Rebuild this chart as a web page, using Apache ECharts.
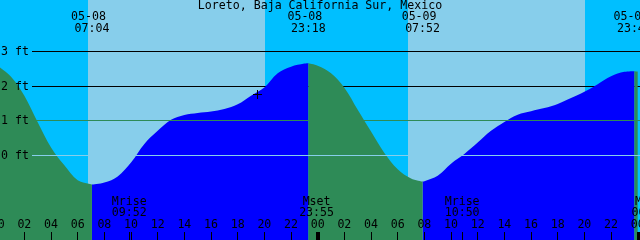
<!DOCTYPE html>
<html>
<head>
<meta charset="utf-8">
<script src="https://cdn.jsdelivr.net/npm/echarts@6/dist/echarts.min.js"></script>
<style>
  html, body { margin: 0; padding: 0; background: #00BFFF; }
  #chart { width: 640px; height: 240px; }
</style>
</head>
<body>
<div id="chart"></div>
<script>
const stationName = 'Loreto, Baja California Sur, Mexico';

// hours after 05-08 00:00 and predicted height (ft)
const tideHours = [0, 1, 2, 3, 4, 5, 6, 7, 8, 9, 10, 11, 12, 13, 14, 15, 16, 17, 18, 19, 20, 21, 22, 23,
  24, 25, 26, 27, 28, 29, 30, 31, 32, 33, 34, 35, 36, 37, 38, 39, 40, 41, 42, 43, 44, 45, 46, 47, 48];
const tideFeet = [2.58, 2.27, 1.72, 0.95, 0.22, -0.30, -0.73, -0.85, -0.80, -0.62, -0.22, 0.32, 0.70, 1.02,
  1.16, 1.22, 1.26, 1.33, 1.47, 1.72, 1.96, 2.37, 2.56, 2.65,
  2.59, 2.37, 1.95, 1.31, 0.68, 0.06, -0.41, -0.68, -0.76, -0.60, -0.25, 0.03, 0.36, 0.70, 0.96, 1.17,
  1.27, 1.36, 1.48, 1.65, 1.83, 2.05, 2.28, 2.41, 2.42];

// high / low tides
const extremeHours = [7.067, 23.3, 31.867, 47.75];
const extremeFeet = [-0.86, 2.66, -0.77, 2.43];
const extremeDates = ['05-08', '05-08', '05-09', '05-09'];
const extremeTimes = ['07:04', '23:18', '07:52', '23:45'];

const sunriseHours = [6.75, 30.75];
const sunsetHours = [20.05, 44.05];

const moonHours = [9.867, 23.917, 34.833, 48.85];
const moonEvents = ['Mrise', 'Mset', 'Mrise', 'Mset'];
const moonTimes = ['09:52', '23:55', '10:50', '00:51'];

const depthFeet = [3, 2, 1, 0];
const midnightHours = [24, 48];
const markHours = [19.48];
const markFeet = [1.75];

// colours
const NIGHT = '#00BFFF';
const DAY = '#87CEEB';
const FLOOD = '#0000FF';
const EBB = '#2E8B57';
const FONT = 'DejaVu Sans Mono';
const FS = 11.6;

// pixel frame of the plot
const W = 640, H = 240;
const ZERO_Y = 155, PX_PER_FT = 34.5;
const PX_PER_HOUR = 640 / 48, X_AT_MIDNIGHT = -2.3;
const Y_MAX = ZERO_Y / PX_PER_FT;
const Y_MIN = -(H - ZERO_Y) / PX_PER_FT;
const X_MAX = (W - X_AT_MIDNIGHT) / PX_PER_HOUR;

const pad2 = n => String(n).padStart(2, '0');

// split curve into rising (flood) and falling (ebb) stretches
const isHigh = i => extremeFeet[i] > (i > 0 ? extremeFeet[i - 1] : extremeFeet[i + 1]);
const points = tideHours.map((t, i) => [t, tideFeet[i]])
  .concat(extremeHours.map((t, i) => [t, extremeFeet[i]]))
  .sort((a, b) => a[0] - b[0]);

function rising(t) {
  let k = extremeHours.findIndex(e => e > t);
  if (k < 0) return !isHigh(extremeHours.length - 1);
  return isHigh(k);
}
const floodData = [], ebbData = [];
points.forEach(([t, h]) => {
  const ext = extremeHours.includes(t);
  const r = rising(t);
  floodData.push(ext || r ? [t, h] : [t, '-']);
  ebbData.push(ext || !r ? [t, h] : [t, '-']);
});

const chart = echarts.init(document.getElementById('chart'), null, { renderer: 'canvas' });

const textStyle = (extra) => Object.assign({
  fontFamily: FONT, fontSize: FS, fill: '#000'
}, extra);

chart.setOption({
  backgroundColor: NIGHT,
  animation: false,
  title: {
    text: stationName,
    left: 'center', top: 0, padding: 0,
    textStyle: { fontFamily: FONT, fontSize: FS, fontWeight: 'normal', color: '#000' }
  },
  grid: { left: X_AT_MIDNIGHT, right: 0, top: 0, bottom: 0, outerBoundsMode: 'none', containLabel: false },
  xAxis: {
    type: 'value', min: 0, max: X_MAX, interval: 2, z: 10,
    axisLine: { show: false, onZero: false },
    splitLine: { show: false },
    axisTick: { inside: true, length: 8, lineStyle: { color: '#000', width: 1 } },
    axisLabel: {
      inside: true, margin: 9, showMaxLabel: false,
      fontFamily: FONT, fontSize: FS, color: '#000',
      formatter: v => Number.isInteger(v) ? pad2(v % 24) : ''
    }
  },
  yAxis: { type: 'value', min: Y_MIN, max: Y_MAX, show: false },
  series: [
    {
      // daylight
      type: 'custom', z: 1, silent: true,
      data: sunriseHours.map((t, i) => [t, sunsetHours[i]]),
      renderItem(params, api) {
        const a = api.coord([api.value(0), Y_MAX]);
        const b = api.coord([api.value(1), Y_MIN]);
        const x0 = Math.round(a[0]), x1 = Math.round(b[0]);
        return { type: 'rect', shape: { x: x0, y: 0, width: x1 - x0, height: H }, style: { fill: DAY } };
      }
    },
    {
      // depth lines hidden by the water
      type: 'custom', z: 2, silent: true,
      data: depthFeet.filter(f => f >= 2),
      renderItem(params, api) {
        const y = Math.floor(api.coord([0, api.value(0)])[1]) + 0.5;
        return { type: 'line', shape: { x1: 32, y1: y, x2: W, y2: y }, style: { stroke: '#000', lineWidth: 1 } };
      }
    },
    {
      name: 'flood', type: 'line', z: 3, data: floodData,
      showSymbol: false, smooth: 0.35, silent: true,
      lineStyle: { width: 0, opacity: 0 },
      areaStyle: { color: FLOOD, opacity: 1, origin: 'start' }
    },
    {
      name: 'ebb', type: 'line', z: 3, data: ebbData,
      showSymbol: false, smooth: 0.35, silent: true,
      lineStyle: { width: 0, opacity: 0 },
      areaStyle: { color: EBB, opacity: 1, origin: 'start' }
    },
    {
      // datum and 1 ft lines drawn over the water
      type: 'custom', z: 4, silent: true,
      data: depthFeet.filter(f => f < 2),
      renderItem(params, api) {
        const f = api.value(0);
        const y = Math.floor(api.coord([0, f])[1]) + 0.5;
        return { type: 'line', shape: { x1: 32, y1: y, x2: W, y2: y },
          style: { stroke: f === 0 ? DAY : EBB, lineWidth: 1 } };
      }
    },
    {
      // depth labels
      type: 'custom', z: 5, silent: true,
      data: depthFeet,
      renderItem(params, api) {
        const f = api.value(0);
        const y = Math.floor(api.coord([0, f])[1]) + 0.5;
        return { type: 'text', x: 1, y, style: textStyle({ text: f + ' ft', align: 'left', verticalAlign: 'middle' }) };
      }
    },
    {
      // high / low labels
      type: 'custom', z: 5, silent: true,
      data: extremeHours.map((t, i) => [t, i]),
      renderItem(params, api) {
        const i = api.value(1);
        const x = api.coord([api.value(0), 0])[0];
        return { type: 'text', x, y: 11, style: textStyle({
          text: extremeDates[i] + ' \n' + extremeTimes[i], align: 'center', verticalAlign: 'top', lineHeight: 12 }) };
      }
    },
    {
      // moon labels
      type: 'custom', z: 5, silent: true,
      data: moonHours.map((t, i) => [t, i]),
      renderItem(params, api) {
        const i = api.value(1);
        const x = api.coord([api.value(0), 0])[0];
        return { type: 'text', x, y: 196.7, style: textStyle({
          text: moonEvents[i] + '\n' + moonTimes[i], align: 'center', verticalAlign: 'top', lineHeight: 11 }) };
      }
    },
    {
      // moon ticks
      type: 'custom', z: 10, silent: true,
      data: moonHours,
      renderItem(params, api) {
        const x = Math.floor(api.coord([api.value(0), 0])[0]) + 0.5;
        return { type: 'line', shape: { x1: x, y1: 232, x2: x, y2: H }, style: { stroke: '#000', lineWidth: 1 } };
      }
    },
    {
      // day boundary ticks
      type: 'custom', z: 10, silent: true,
      data: midnightHours,
      renderItem(params, api) {
        const x = Math.round(api.coord([api.value(0), 0])[0]) - 1;
        return { type: 'rect', shape: { x, y: 232, width: 3, height: 8 }, style: { fill: '#000' } };
      }
    },
    {
      // time mark
      type: 'custom', z: 6, silent: true,
      data: markHours.map((t, i) => [t, markFeet[i]]),
      renderItem(params, api) {
        const p = api.coord([api.value(0), api.value(1)]);
        const x = Math.floor(p[0]) + 0.5, y = Math.floor(p[1]) + 0.5;
        return { type: 'group', children: [
          { type: 'line', shape: { x1: x - 4.5, y1: y, x2: x + 4.5, y2: y }, style: { stroke: '#000', lineWidth: 1 } },
          { type: 'line', shape: { x1: x, y1: y - 4.5, x2: x, y2: y + 4.5 }, style: { stroke: '#000', lineWidth: 1 } }
        ] };
      }
    }
  ]
});

window.addEventListener('resize', () => chart.resize());
</script>
</body>
</html>
